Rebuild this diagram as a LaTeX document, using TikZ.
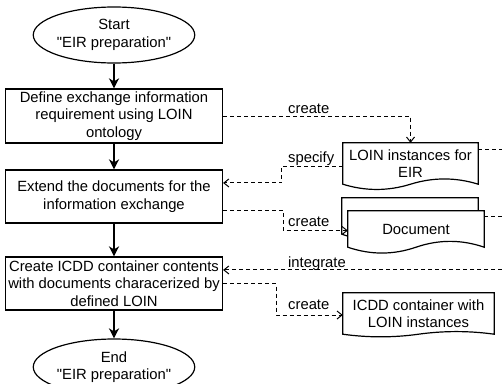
\documentclass[tikz,border=0pt]{standalone}
\usepackage{fontspec}
\setmainfont{Liberation Sans}[Ligatures=TeXOff]
\usepackage{tikz}
\usetikzlibrary{shapes.geometric}
\usetikzlibrary{arrows.meta}
\usetikzlibrary{calc}
\usetikzlibrary{backgrounds}
\tikzstyle{task}=[rectangle,draw=black,line width=1.2pt,fill=white,inner sep=0mm,minimum width=217pt,minimum height=53pt,align=center]
\tikzstyle{terminal}=[ellipse,draw=black,line width=1.2pt,fill=white,inner sep=0mm,minimum width=137pt,minimum height=56pt,align=center]
\tikzstyle{doc}=[rectangle,inner sep=0mm,align=center]
\tikzstyle{flow}=[-{Stealth[length=10pt,width=10pt,inset=3pt]},line width=2pt]
\tikzstyle{assoc}=[-{Straight Barb[length=5pt,width=8pt]},line width=1pt,dash pattern=on 4pt off 3pt]
\tikzstyle{lbl}=[anchor=base west,inner sep=0mm]
% document outline with wavy bottom, #2 = wave height
\newcommand\docshape[2]{%
  \draw[line width=1.2pt,fill=white] (#1.north west) -- (#1.north east) -- (#1.south east)
    .. controls ($(#1.south east)!1/3!(#1.south)+(0,-#2)$) and ($(#1.south east)!2/3!(#1.south)+(0,-#2)$) .. (#1.south)
    .. controls ($(#1.south)!1/3!(#1.south west)+(0,#2)$) and ($(#1.south)!2/3!(#1.south west)+(0,#2)$) .. (#1.south west)
    -- cycle;}

\begin{document}
\begin{tikzpicture}[x=1pt,y=-1pt,font=\fontsize{14.8}{17.5}\selectfont]
      \useasboundingbox (0,0) rectangle (502,383);
      \node[terminal] at (114,35) (start) {Start\\"EIR preparation"};
      \node[task,minimum height=54pt] at (114,116) (define) {Define exchange information\\requirement using LOIN\\ontology};
      \node[task] at (114,196.5) (extend) {Extend the documents for the\\information exchange};
      \node[task] at (114,283.5) (create) {Create ICDD container contents\\with documents characerized by\\defined LOIN};
      \node[terminal] at (114,367) (stop) {End\\"EIR preparation"};
      \node[doc,minimum width=135pt,minimum height=41pt] at (410.5,163.5) (eir) {LOIN instances for\\EIR};
      \node[doc,minimum width=136pt,minimum height=36pt] at (410,216) (docsback) {};
      \node[doc,minimum width=136pt,minimum height=36pt] at (416,229) (docs) {Document};
      \node[doc,minimum width=151pt,minimum height=41pt] at (418.5,313.5) (icdd) {ICDD container with\\LOIN instances};
      \begin{scope}[on background layer]
        \docshape{eir}{7}
        \docshape{docsback}{7.8}
        \docshape{docs}{7.8}
        \docshape{icdd}{3.5}
      \end{scope}
      \draw[flow] (start) -- (define);
      \draw[flow] (define) -- (extend);
      \draw[flow] (extend) -- (create);
      \draw[flow] (create) -- (stop);
      \coordinate (edge) at (502,0);
      \coordinate (eirout) at ($(eir.north east)!0.17!(eir.south east)$);
      \coordinate (docsout) at ($(docs.north east)!0.17!(docs.south east)$);
      \coordinate (intin) at ($(create.north east)!0.25!(create.south east)$);
      \draw[assoc] (define.east) -| (eir.north);
      \draw[assoc] ([yshift=-2.5pt]eir.west) -- ++(-61,0) |- ($(extend.north east)!0.25!(extend.south east)$);
      \draw[assoc] ($(extend.north east)!0.75!(extend.south east)$) -- ++(60,0) |- ([yshift=-1.5pt]docs.west);
      \draw[assoc] (intin -| edge) -- (intin);
      \draw[assoc] (create.east) -- ++(53,0) |- ([yshift=-1.5pt]icdd.west);
      \draw[assoc,-] (eirout) -- (eirout -| edge);
      \draw[assoc,-] (docsout) -- (docsout -| edge);
      \node[lbl] at (288,113) (lcreatea) {create};
      \node[lbl] at (288,162) (lspecify) {specify};
      \node[lbl] at (288,226) (lcreateb) {create};
      \node[lbl] at (288,267) (lintegrate) {integrate};
      \node[lbl] at (288,309) (lcreatec) {create};
    \end{tikzpicture}
\end{document}
